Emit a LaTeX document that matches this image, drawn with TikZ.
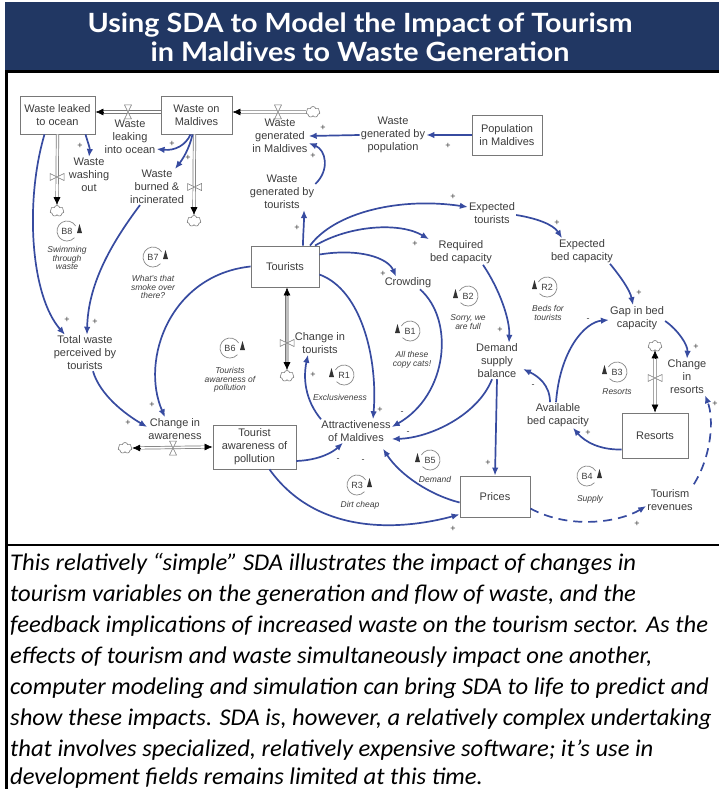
\documentclass[tikz,border=0pt]{standalone}
\usepackage{fontspec}
\setmainfont{Liberation Sans}
\newfontfamily\titlefont{Lato}[FakeStretch=1.085]
\newfontfamily\capfont{Carlito}[FakeStretch=1.025]
\usetikzlibrary{arrows.meta,shapes.symbols,calc}
\definecolor{navy}{RGB}{33,55,99}
\definecolor{cblue}{RGB}{55,75,160}
\definecolor{txt}{RGB}{60,60,60}
\definecolor{boxline}{RGB}{120,120,120}
\definecolor{loopc}{RGB}{135,135,135}
\tikzset{
  dg/.style={font=\fontsize{11}{13}\selectfont, text=txt, align=center},
  box/.style={dg, draw=boxline, line width=0.8pt, fill=white, inner sep=1pt},
  var/.style={dg, inner sep=1pt},
  pol/.style={font=\fontsize{9}{9}\selectfont, text=txt, inner sep=0pt},
  conn/.style={draw=cblue, line width=1.7pt, -{Latex[length=8pt,width=6.5pt]}},
  dconn/.style={conn, dash pattern=on 9pt off 6pt},
  pipe/.style={draw=boxline, line width=0.7pt, double=white, double distance=1.8pt},
  tpipe/.style={draw=boxline, line width=0.7pt, double=black!25, double distance=3pt},
  pipetip/.style={-{Latex[length=8pt,width=7pt]}, draw=black, line width=0.6pt},
  cld/.style={cloud, cloud puffs=7, draw=boxline, line width=0.6pt, fill=white, minimum width=14pt, minimum height=11pt, inner sep=0pt},
  looptxt/.style={font=\fontsize{8.5}{8.7}\selectfont\itshape, text=txt, align=center, inner sep=0pt},
  looplbl/.style={font=\fontsize{9}{9}\selectfont, text=txt, inner sep=0pt},
  captxt/.style={anchor=base west, inner sep=0pt, text=black, font=\capfont\itshape\fontsize{24}{28}\selectfont},
  valveh/.pic={\filldraw[draw=boxline, fill=white, line width=0.5pt] (-3.5,-7) -- (3.5,-7) -- (0,0) -- cycle (-3.5,7) -- (3.5,7) -- (0,0) -- cycle;},
  valvev/.pic={\filldraw[draw=boxline, fill=white, line width=0.5pt] (-7,-3.5) -- (-7,3.5) -- (0,0) -- cycle (7,-3.5) -- (7,3.5) -- (0,0) -- cycle;},
  loopr/.pic={\draw[loopc, line width=0.7pt] (30:10pt) arc[start angle=30, end angle=318, radius=10pt];
    \fill[black!80] (10,2) -- (15,2) -- (12.5,-7) -- cycle;
    \node[looplbl] (lbl) at (0,0) {#1};},
  loopl/.pic={\draw[loopc, line width=0.7pt] (150:10pt) arc[start angle=150, end angle=-138, radius=10pt];
    \fill[black!80] (-10,2) -- (-15,2) -- (-12.5,-7) -- cycle;
    \node[looplbl] (lbl) at (0,0) {#1};},
}
\begin{document}
\begin{tikzpicture}[x=1pt,y=-1pt]
\useasboundingbox (0,0) rectangle (719,789);
\clip (0,0) rectangle (719,789);
% frame
\fill[navy] (5,2) rectangle (719,71);
\draw[black, line width=3pt] (6.5,70) -- (6.5,789);
\draw[black, line width=2.5pt] (5,71.5) -- (719,71.5);
\draw[black, line width=2.5pt] (5,545) -- (719,545);
% title
\node[anchor=base, inner sep=0pt, text=white, font=\titlefont\bfseries\fontsize{26.5}{30}\selectfont] (t1) at (360,33) {Using SDA to Model the Impact of Tourism};
\node[anchor=base, inner sep=0pt, text=white, font=\titlefont\bfseries\fontsize{26.5}{30}\selectfont] (t2) at (360,62) {in Maldives to Waste Generation};
% boxes
\node[box, minimum width=75pt, minimum height=38pt] (wlo) at (57.5,115) {Waste leaked\\to ocean};
\node[box, minimum width=71pt, minimum height=38pt] (wom) at (196.5,115) {Waste on\\Maldives};
\node[box, minimum width=70pt, minimum height=40pt] (pop) at (507,135) {Population\\in Maldives};
\node[box, minimum width=68pt, minimum height=41pt] (tour) at (285,266.5) {Tourists};
\node[box, minimum width=83pt, minimum height=44pt] (taw) at (254.5,447) {Tourist\\awareness of\\pollution};
\node[box, minimum width=70pt, minimum height=41pt] (prices) at (495,496.5) {Prices};
\node[box, minimum width=66pt, minimum height=45pt] (resorts) at (655,435.5) {Resorts};
% variables
\node[var] (wlio) at (130,137) {Waste\\leaking\\into ocean};
\node[var] (wwo) at (89,175) {Waste\\washing\\out};
\node[var] (wbi) at (157,187) {Waste\\burned \&\\incinerated};
\node[var] (wgm) at (280,136) {Waste\\generated\\in Maldives};
\node[var] (wgp) at (393,135) {Waste\\generated by\\population};
\node[var] (wgt) at (282,192) {Waste\\generated by\\tourists};
\node[var] (et) at (492,213) {Expected\\tourists};
\node[var] (rbc) at (461,252) {Required\\bed capacity};
\node[var] (ebc) at (582,251) {Expected\\bed capacity};
\node[var] (crowd) at (408,283) {Crowding};
\node[var] (gap) at (637,318) {Gap in bed\\capacity};
\node[var] (dsb) at (497,361) {Demand\\supply\\balance};
\node[var] (cir) at (687,377) {Change\\in\\resorts};
\node[var] (abc) at (558,415) {Available\\bed capacity};
\node[var] (tr) at (670,500) {Tourism\\revenues};
\node[var] (attr) at (356,431) {Attractiveness\\of Maldives};
\node[var] (cit) at (320,343) {Change in\\tourists};
\node[var] (ca) at (175,429) {Change in\\awareness};
\node[var] (twp) at (85,353) {Total waste\\perceived by\\tourists};
% clouds
\node[cld] (c1) at (57,211) {};
\node[cld] (c2) at (194,221) {};
\node[cld] (c3) at (313,112) {};
\node[cld] (c4) at (287,376) {};
\node[cld] (c5) at (125,448) {};
\node[cld] (c6) at (655,346) {};
% pipes
\draw[pipe, shorten >=6pt] ([yshift=3pt]wom.west) -- ([yshift=3pt]wlo.east);
\draw[pipetip] ($(wlo.east)+(8,-3)$) -- ([yshift=3pt]wlo.east);
\draw[pipe, shorten >=6pt] (wlo.south) -- (c1.north);
\draw[pipetip] ($(c1.north)+(0,-8)$) -- (c1.north);
\draw[pipe, shorten >=6pt] ([xshift=-2pt]wom.south) -- (c2.north);
\draw[pipetip] ($(c2.north)+(0,-8)$) -- (c2.north);
\draw[pipe, shorten >=6pt] (c3.west) -- ([yshift=3pt]wom.east);
\draw[pipetip] ($(wom.east)+(8,-3)$) -- ([yshift=3pt]wom.east);
\draw[tpipe, shorten >=6pt, shorten <=6pt] ([xshift=2pt]tour.south) -- (c4.north);
\draw[pipetip] ($(tour.south)+(2,8)$) -- ([xshift=2pt]tour.south);
\draw[pipetip] ($(c4.north)+(0,-8)$) -- (c4.north);
\draw[pipe, shorten >=6pt, shorten <=6pt] (c5.east) -- (taw.west);
\draw[pipetip] ($(c5.east)+(8,0)$) -- (c5.east);
\draw[pipetip] ($(taw.west)+(-8,0)$) -- (taw.west);
\draw[pipe, shorten >=6pt, shorten <=6pt] (c6.south) -- (resorts.north);
\draw[pipetip] ($(c6.south)+(0,8)$) -- (c6.south);
\draw[pipetip] ($(resorts.north)+(0,-8)$) -- (resorts.north);
% valves
\pic (v1) at (128,112) {valveh};
\pic (v2) at (57,177) {valvev};
\pic (v3) at (194.5,187) {valvev};
\pic (v4) at (278,112) {valveh};
\pic (v5) at (287,343) {valvev};
\pic (v6) at (173,448) {valveh};
\pic (v7) at (655,378) {valvev};
% connectors
\draw[conn] ([xshift=28pt]wlo.south) .. controls (88,143) and (90,148) .. (wwo.north);
\draw[conn] ([xshift=-6pt]wom.south) .. controls (186,145) and (175,151) .. ([yshift=-12pt]wlio.east);
\draw[conn] ([xshift=-4pt]wom.south) .. controls (189,150) and (182,160) .. ([xshift=18pt]wbi.north);
\draw[conn] ([xshift=-13pt]wlo.south) .. controls (25,200) and (30,295) .. ([xshift=-20pt]twp.north);
\draw[conn] ([xshift=-17pt]wbi.south) .. controls (110,245) and (88,285) .. ([xshift=2pt]twp.north);
\draw[conn] (wgp.west) -- (wgm.east);
\draw[conn] (pop.west) -- (wgp.east);
\draw[conn] ([yshift=8pt]wgt.east) .. controls (330,170) and (326,150) .. ([yshift=-7pt]wgm.east);
\draw[conn] ([xshift=18pt]tour.north) .. controls (303,235) and (304,225) .. ([xshift=22pt]wgt.south);
\draw[conn] ([xshift=25pt]tour.north) .. controls (335,212) and (400,197) .. ([yshift=6pt]et.west);
\draw[conn] ([xshift=30pt]tour.north) .. controls (350,225) and (400,222) .. (rbc.north west);
\draw[conn] ([yshift=12pt]tour.east) .. controls (360,248) and (388,258) .. ([xshift=-12pt]crowd.north);
\draw[conn] ([yshift=-2pt]et.east) .. controls (535,218) and (553,224) .. ([xshift=-20pt]ebc.north);
\draw[conn] ([xshift=28pt]ebc.south) .. controls (620,276) and (630,290) .. ([xshift=-4pt]gap.north);
\draw[conn] ([yshift=-3pt]gap.east) .. controls (678,330) and (688,345) .. (cir.north);
\draw[conn] ([xshift=22pt]rbc.south) .. controls (500,290) and (510,320) .. ([xshift=12pt]dsb.north);
\draw[conn] ([xshift=-2pt]abc.north) .. controls (560,350) and (585,322) .. ([yshift=-2pt]gap.west);
\draw[conn] ([xshift=-8pt]abc.north) .. controls (550,385) and (538,376) .. ([xshift=4pt,yshift=-8pt]dsb.east);
\draw[conn] ([yshift=-14pt]resorts.west) .. controls (600,450) and (585,442) .. ([xshift=15pt]abc.south);
\draw[conn] (dsb.south) -- (prices.north);
\draw[conn] ([xshift=-5pt]dsb.south) .. controls (478,415) and (430,438) .. ([yshift=-8pt]attr.east);
\draw[conn] ([xshift=12pt]crowd.south) .. controls (455,320) and (448,395) .. ([yshift=4pt]attr.east);
\draw[conn] ([yshift=-8pt]tour.east) .. controls (362,290) and (378,360) .. ([xshift=17pt]attr.north);
\draw[conn] ([xshift=-35pt]attr.north) .. controls (305,400) and (303,378) .. ([xshift=-12pt]cit.south);
\draw[conn] (tour.west) .. controls (170,275) and (140,360) .. ([xshift=-10pt]ca.north);
\draw[conn] ([xshift=8pt]twp.south) .. controls (100,395) and (125,414) .. ([yshift=2pt]ca.west);
\draw[conn] ([yshift=-14pt]taw.east) .. controls (320,460) and (333,452) .. ([xshift=-13pt]attr.south);
\draw[conn] ([xshift=15pt]taw.south) .. controls (320,540) and (410,528) .. ([yshift=3pt]prices.south west);
\draw[conn] ([yshift=-6pt]prices.west) .. controls (430,495) and (400,475) .. ([xshift=27pt,yshift=-6pt]attr.south);
\draw[dconn] ([yshift=-12pt]prices.east) .. controls (570,530) and (620,522) .. ([yshift=-6pt]tr.west);
\draw[dconn] ([yshift=4pt]tr.north east) .. controls (712,455) and (714,418) .. ([xshift=18pt]cir.south);
% polarity
\node[pol] (p1) at (80,146) {+};
\node[pol] (p2) at (172,144) {+};
\node[pol] (p3) at (188,158) {+};
\node[pol] (p4) at (67,320) {+};
\node[pol] (p5) at (95,322) {+};
\node[pol] (p6) at (323,128) {+};
\node[pol] (p7) at (448,146) {+};
\node[pol] (p8) at (313,156) {+};
\node[pol] (p9) at (297,228) {+};
\node[pol] (p10) at (453,197) {+};
\node[pol] (p11) at (415,244) {+};
\node[pol] (p12) at (383,274) {+};
\node[pol] (p13) at (557,223) {+};
\node[pol] (p14) at (639,293) {+};
\node[pol] (p15) at (696,347) {+};
\node[pol] (p16) at (500,330) {+};
\node[pol] (p17) at (588,320) {-};
\node[pol] (p18) at (533,386) {-};
\node[pol] (p19) at (588,433) {+};
\node[pol] (p20) at (488,463) {+};
\node[pol] (p21) at (408,433) {-};
\node[pol] (p22) at (402,413) {-};
\node[pol] (p23) at (380,410) {+};
\node[pol] (p24) at (313,375) {+};
\node[pol] (p25) at (152,405) {+};
\node[pol] (p26) at (128,423) {+};
\node[pol] (p27) at (338,460) {-};
\node[pol] (p28) at (453,529) {+};
\node[pol] (p29) at (363,461) {-};
\node[pol] (p30) at (637,524) {+};
\node[pol] (p31) at (715,404) {+};
% loops
\pic (b8) at (67,231) {loopr=B8};
\node[looptxt] (tb8) at (67,258) {Swimming\\through\\waste};
\pic (b7) at (153,257) {loopr=B7};
\node[looptxt] (tb7) at (153,287) {What's that\\smoke over\\there?};
\pic (b6) at (230,348) {loopr=B6};
\node[looptxt] (tb6) at (230,380) {Tourists\\awareness of\\pollution};
\pic (r1) at (344,375) {loopl=R1};
\node[looptxt] (tr1) at (340,397) {Exclusiveness};
\pic (b1) at (410,331) {loopl=B1};
\node[looptxt] (tb1) at (412,360) {All these\\copy cats!};
\pic (b2) at (468,296) {loopl=B2};
\node[looptxt] (tb2) at (468,322) {Sorry, we\\are full};
\pic (r2) at (547,287) {loopl=R2};
\node[looptxt] (tr2) at (548,313) {Beds for\\tourists};
\pic (b3) at (617,372) {loopl=B3};
\node[looptxt] (tb3) at (617,392) {Resorts};
\pic (b5) at (430,460) {loopl=B5};
\node[looptxt] (tb5) at (435,479) {Demand};
\pic (r3) at (357,485) {loopr=R3};
\node[looptxt] (tr3) at (360,505) {Dirt cheap};
\pic (b4) at (587,476) {loopr=B4};
\node[looptxt] (tb4) at (590,499) {Supply};
% caption
\node[captxt] (l1) at (10,570) {This relatively “simple” SDA illustrates the impact of changes in};
\node[captxt] (l2) at (10,601) {tourism variables on the generation and flow of waste, and the};
\node[captxt] (l3) at (10,632) {feedback implications of increased waste on the tourism sector. As the};
\node[captxt] (l4) at (10,663) {effects of tourism and waste simultaneously impact one another,};
\node[captxt] (l5) at (10,694) {computer modeling and simulation can bring SDA to life to predict and};
\node[captxt] (l6) at (10,725) {show these impacts. SDA is, however, a relatively complex undertaking};
\node[captxt] (l7) at (10,756) {that involves specialized, relatively expensive software; it’s use in};
\node[captxt] (l8) at (10,784) {development fields remains limited at this time.};
\end{tikzpicture}
\end{document}
